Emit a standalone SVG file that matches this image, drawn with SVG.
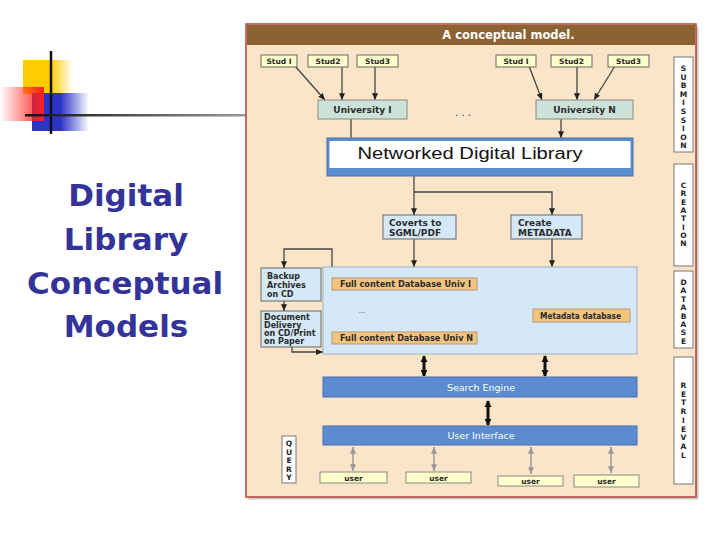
<svg xmlns="http://www.w3.org/2000/svg" width="720" height="540" viewBox="0 0 720 540">
<defs>
<style>
.lbl{font-family:"DejaVu Sans",Verdana,sans-serif;font-weight:bold;fill:#2a2a2a;}
.s75{font-size:7.5px;}
.s8{font-size:8px;}
.s9{font-size:9px;}
.wt{font-family:"DejaVu Sans",Verdana,sans-serif;font-size:9.5px;fill:#fff;}
.ln{stroke:#444;stroke-width:1.3;fill:none;}
.lng{stroke:#9a9a9a;stroke-width:1.5;fill:none;}
.lnb{stroke:#111;stroke-width:3;fill:none;}
.stud{fill:#FFFFCC;stroke:#666;stroke-width:1;}
.uni{fill:#CDE2D9;stroke:#888;stroke-width:1;}
.lb{fill:#D5E8F8;stroke:#666;stroke-width:1;}
.org{fill:#F4C47F;stroke:#B89870;stroke-width:1;}
.bar{fill:#5B8BD0;stroke:#4A70A8;stroke-width:1;}
.side{fill:#fff;stroke:#777;stroke-width:1;}
.usr{fill:#FFFFCC;stroke:#888;stroke-width:1;}
.vl{font-family:"DejaVu Sans",Verdana,sans-serif;font-weight:bold;font-size:7.5px;fill:#222;}
</style>
<marker id="ah" viewBox="0 0 8 7" refX="8" refY="3.5" markerWidth="7" markerHeight="6" markerUnits="userSpaceOnUse" orient="auto-start-reverse"><path d="M0,0L8,3.5L0,7z" fill="#222"/></marker>
<marker id="ahg" viewBox="0 0 8 7" refX="8" refY="3.5" markerWidth="7" markerHeight="6" markerUnits="userSpaceOnUse" orient="auto-start-reverse"><path d="M0,0L8,3.5L0,7z" fill="#999"/></marker>
<marker id="ahb" viewBox="0 0 8 8" refX="7" refY="4" markerWidth="7" markerHeight="8" markerUnits="userSpaceOnUse" orient="auto-start-reverse"><path d="M0,0L8,4L0,8z" fill="#111"/></marker>
<linearGradient id="gy" x1="0" x2="1" y1="0" y2="0"><stop offset="0" stop-color="#FFCC00"/><stop offset="0.55" stop-color="#FFCC00"/><stop offset="1" stop-color="#FFCC00" stop-opacity="0"/></linearGradient>
<linearGradient id="gr" x1="0" x2="1" y1="0" y2="0"><stop offset="0" stop-color="#FF2020" stop-opacity="0"/><stop offset="1" stop-color="#FF2020"/></linearGradient>
<linearGradient id="gb" x1="0" x2="1" y1="0" y2="0"><stop offset="0" stop-color="#2E33C8"/><stop offset="0.5" stop-color="#2E33C8"/><stop offset="1" stop-color="#2E33C8" stop-opacity="0"/></linearGradient>
<linearGradient id="gl" x1="0" x2="1" y1="0" y2="0"><stop offset="0" stop-color="#111"/><stop offset="1" stop-color="#999"/></linearGradient>
</defs>
<rect width="720" height="540" fill="#fff"/>

<g id="decoration">
<rect x="23" y="60" width="50" height="34" fill="url(#gy)"/>
<rect x="32" y="93" width="57" height="38" fill="url(#gb)"/>
<rect x="0" y="87" width="44" height="34" fill="url(#gr)"/>
<line x1="51" y1="51" x2="51" y2="134" stroke="#111" stroke-width="2.5"/>
<rect x="25" y="114" width="221" height="2.5" fill="url(#gl)"/>
</g>

<g id="slide-title" font-family="DejaVu Sans,Verdana,sans-serif" font-weight="bold" font-size="31" fill="#333399" text-anchor="middle">
<text x="126" y="206">Digital</text>
<text x="126" y="250">Library</text>
<text x="125" y="294">Conceptual</text>
<text x="126" y="337">Models</text>
</g>

<g id="frame">
<rect x="248.5" y="26.5" width="450" height="473" fill="#C8C8C8"/>
<rect x="246" y="24" width="450" height="473" fill="#FBE5C9" stroke="#B5413A" stroke-width="1.5"/>
<rect x="247" y="25" width="448" height="20" fill="#8B6333"/>
<text x="508.5" y="39" font-family="DejaVu Sans,Verdana,sans-serif" font-weight="bold" font-size="11.5" fill="#fff" text-anchor="middle">A conceptual model.</text>
</g>

<g id="connectors">
<line class="ln" x1="295" y1="66" x2="325" y2="100" marker-end="url(#ah)"/>
<line class="ln" x1="342" y1="66" x2="342" y2="100" marker-end="url(#ah)"/>
<line class="ln" x1="375" y1="66" x2="375" y2="100" marker-end="url(#ah)"/>
<line class="ln" x1="529" y1="66" x2="542" y2="100" marker-end="url(#ah)"/>
<line class="ln" x1="577" y1="66" x2="577" y2="100" marker-end="url(#ah)"/>
<line class="ln" x1="615" y1="66" x2="594" y2="100" marker-end="url(#ah)"/>
<line class="ln" x1="351" y1="119" x2="351" y2="139"/>
<line class="ln" x1="348" y1="139" x2="354" y2="139"/>
<line class="ln" x1="561" y1="119" x2="561" y2="138" marker-end="url(#ah)"/>
<line class="ln" x1="414" y1="176" x2="414" y2="215" marker-end="url(#ah)"/>
<polyline class="ln" points="414,192 552,192 552,215" marker-end="url(#ah)"/>
<line class="ln" x1="414" y1="239" x2="414" y2="267" marker-end="url(#ah)"/>
<line class="ln" x1="552" y1="239" x2="552" y2="267" marker-end="url(#ah)"/>
<polyline class="ln" points="332,267 332,249 284,249 284,268" marker-end="url(#ah)"/>
<line class="ln" x1="284" y1="301" x2="284" y2="311" marker-end="url(#ah)"/>
<polyline class="ln" points="292,347 292,352 323,352" marker-end="url(#ah)"/>
<line class="lng" x1="482" y1="288" x2="531" y2="313" marker-start="url(#ahg)" marker-end="url(#ahg)"/>
<line class="lng" x1="484" y1="338" x2="531" y2="318" marker-start="url(#ahg)" marker-end="url(#ahg)"/>
<line class="lnb" x1="424" y1="356" x2="424" y2="376" marker-start="url(#ahb)" marker-end="url(#ahb)"/>
<line class="lnb" x1="545" y1="356" x2="545" y2="376" marker-start="url(#ahb)" marker-end="url(#ahb)"/>
<line class="lnb" x1="488" y1="401" x2="488" y2="425" marker-start="url(#ahb)" marker-end="url(#ahb)"/>
<line class="lng" x1="353" y1="447" x2="353" y2="471" marker-start="url(#ahg)" marker-end="url(#ahg)"/>
<line class="lng" x1="434" y1="447" x2="434" y2="471" marker-start="url(#ahg)" marker-end="url(#ahg)"/>
<line class="lng" x1="531" y1="447" x2="531" y2="474" marker-start="url(#ahg)" marker-end="url(#ahg)"/>
<line class="lng" x1="611" y1="447" x2="611" y2="473" marker-start="url(#ahg)" marker-end="url(#ahg)"/>
</g>

<g id="stud1-l"><rect class="stud" x="261" y="55" width="36" height="12"/><text class="lbl s75" x="279" y="64" text-anchor="middle">Stud I</text></g>
<g id="stud2-l"><rect class="stud" x="308" y="55" width="40" height="12"/><text class="lbl s75" x="328" y="64" text-anchor="middle">Stud2</text></g>
<g id="stud3-l"><rect class="stud" x="357" y="55" width="41" height="12"/><text class="lbl s75" x="377.5" y="64" text-anchor="middle">Stud3</text></g>
<g id="stud1-r"><rect class="stud" x="496" y="55" width="40" height="12"/><text class="lbl s75" x="516" y="64" text-anchor="middle">Stud I</text></g>
<g id="stud2-r"><rect class="stud" x="551" y="55" width="41" height="12"/><text class="lbl s75" x="571.5" y="64" text-anchor="middle">Stud2</text></g>
<g id="stud3-r"><rect class="stud" x="608" y="55" width="41" height="12"/><text class="lbl s75" x="628.5" y="64" text-anchor="middle">Stud3</text></g>

<g id="university-1"><rect class="uni" x="318" y="100" width="89" height="19"/><text class="lbl s9" x="362.5" y="113" text-anchor="middle">University I</text></g>
<g id="university-n"><rect class="uni" x="536" y="100" width="97" height="19"/><text class="lbl s9" x="584.5" y="113" text-anchor="middle">University N</text></g>
<text x="463" y="116" font-family="DejaVu Sans,sans-serif" font-size="10" fill="#333" text-anchor="middle">. . .</text>

<g id="ndl">
<rect x="327" y="138" width="306" height="38" fill="#5B8DD3" stroke="#4A70A8" stroke-width="1"/>
<rect x="329.5" y="141" width="301" height="27" fill="#fff"/>
<text x="470" y="159" font-family="Liberation Sans,Arial,sans-serif" font-size="16" fill="#111" text-anchor="middle" textLength="225" lengthAdjust="spacingAndGlyphs">Networked Digital Library</text>
</g>

<g id="coverts"><rect class="lb" x="383" y="215" width="73" height="24"/><text class="lbl s9"><tspan x="389" y="226">Coverts to</tspan><tspan x="389" y="235.5">SGML/PDF</tspan></text></g>
<g id="create"><rect class="lb" x="511" y="215" width="71" height="24"/><text class="lbl s9"><tspan x="518" y="226">Create</tspan><tspan x="518" y="235.5">METADATA</tspan></text></g>

<g id="database">
<rect x="323" y="267" width="314" height="87" fill="#D5E8F7" stroke="#9AB0C4" stroke-width="1"/>
<text x="362" y="313" font-family="DejaVu Sans,sans-serif" font-size="7" fill="#444" text-anchor="middle">...</text>
</g>
<g id="fcdb-1"><rect class="org" x="332" y="278" width="145" height="12"/><text class="lbl s8" x="340" y="287" textLength="131" lengthAdjust="spacingAndGlyphs">Full content Database Univ I</text></g>
<g id="fcdb-n"><rect class="org" x="332" y="332" width="145" height="12"/><text class="lbl s8" x="340" y="341" textLength="133" lengthAdjust="spacingAndGlyphs">Full content Database Univ N</text></g>
<g id="metadata-db"><rect class="org" x="533" y="309" width="97" height="13"/><text class="lbl s8" x="540" y="318.5" textLength="81" lengthAdjust="spacingAndGlyphs">Metadata database</text></g>

<g id="backup"><rect class="lb" x="261" y="268" width="60" height="33"/><text class="lbl s8"><tspan x="267" y="279">Backup</tspan><tspan x="267" y="288">Archives</tspan><tspan x="267" y="296.5">on CD</tspan></text></g>
<g id="document"><rect class="lb" x="261" y="311" width="60" height="36"/><text class="lbl s8"><tspan x="264" y="320">Document</tspan><tspan x="264" y="328">Delivery</tspan><tspan x="264" y="336">on CD/Print</tspan><tspan x="264" y="344">on Paper</tspan></text></g>

<g id="search-engine"><rect class="bar" x="323" y="377" width="314" height="20"/><text class="wt" x="481" y="390.5" text-anchor="middle">Search Engine</text></g>
<g id="user-interface"><rect class="bar" x="323" y="426" width="314" height="19"/><text class="wt" x="481" y="439" text-anchor="middle">User Interface</text></g>

<g id="user-1"><rect class="usr" x="320" y="472" width="67" height="11"/><text class="lbl s75" x="353.5" y="480.5" text-anchor="middle">user</text></g>
<g id="user-2"><rect class="usr" x="406" y="472" width="65" height="11"/><text class="lbl s75" x="438.5" y="480.5" text-anchor="middle">user</text></g>
<g id="user-3"><rect class="usr" x="498" y="476" width="65" height="10"/><text class="lbl s75" x="530.5" y="484" text-anchor="middle">user</text></g>
<g id="user-4"><rect class="usr" x="574" y="475" width="65" height="12"/><text class="lbl s75" x="606.5" y="484" text-anchor="middle">user</text></g>

<g id="query"><rect class="side" x="282" y="436" width="14" height="47"/><text class="vl" text-anchor="middle"><tspan x="289" y="446">Q</tspan><tspan x="289" dy="8.5">U</tspan><tspan x="289" dy="8.5">E</tspan><tspan x="289" dy="8.5">R</tspan><tspan x="289" dy="8.5">Y</tspan></text></g>

<g id="submission"><rect class="side" x="674" y="57" width="19" height="95"/><text class="vl" text-anchor="middle"><tspan x="683.5" y="71">S</tspan><tspan x="683.5" dy="8.6">U</tspan><tspan x="683.5" dy="8.6">B</tspan><tspan x="683.5" dy="8.6">M</tspan><tspan x="683.5" dy="8.6">I</tspan><tspan x="683.5" dy="8.6">S</tspan><tspan x="683.5" dy="8.6">S</tspan><tspan x="683.5" dy="8.6">I</tspan><tspan x="683.5" dy="8.6">O</tspan><tspan x="683.5" dy="8.6">N</tspan></text></g>
<g id="creation"><rect class="side" x="674" y="164" width="19" height="102"/><text class="vl" text-anchor="middle"><tspan x="683.5" y="188">C</tspan><tspan x="683.5" dy="8.3">R</tspan><tspan x="683.5" dy="8.3">E</tspan><tspan x="683.5" dy="8.3">A</tspan><tspan x="683.5" dy="8.3">T</tspan><tspan x="683.5" dy="8.3">I</tspan><tspan x="683.5" dy="8.3">O</tspan><tspan x="683.5" dy="8.3">N</tspan></text></g>
<g id="database-label"><rect class="side" x="674" y="271" width="19" height="77"/><text class="vl" text-anchor="middle"><tspan x="683.5" y="285">D</tspan><tspan x="683.5" dy="8.4">A</tspan><tspan x="683.5" dy="8.4">T</tspan><tspan x="683.5" dy="8.4">A</tspan><tspan x="683.5" dy="8.4">B</tspan><tspan x="683.5" dy="8.4">A</tspan><tspan x="683.5" dy="8.4">S</tspan><tspan x="683.5" dy="8.4">E</tspan></text></g>
<g id="retrieval"><rect class="side" x="674" y="357" width="19" height="127"/><text class="vl" text-anchor="middle"><tspan x="683.5" y="388">R</tspan><tspan x="683.5" dy="8.7">E</tspan><tspan x="683.5" dy="8.7">T</tspan><tspan x="683.5" dy="8.7">R</tspan><tspan x="683.5" dy="8.7">I</tspan><tspan x="683.5" dy="8.7">E</tspan><tspan x="683.5" dy="8.7">V</tspan><tspan x="683.5" dy="8.7">A</tspan><tspan x="683.5" dy="8.7">L</tspan></text></g>
</svg>
